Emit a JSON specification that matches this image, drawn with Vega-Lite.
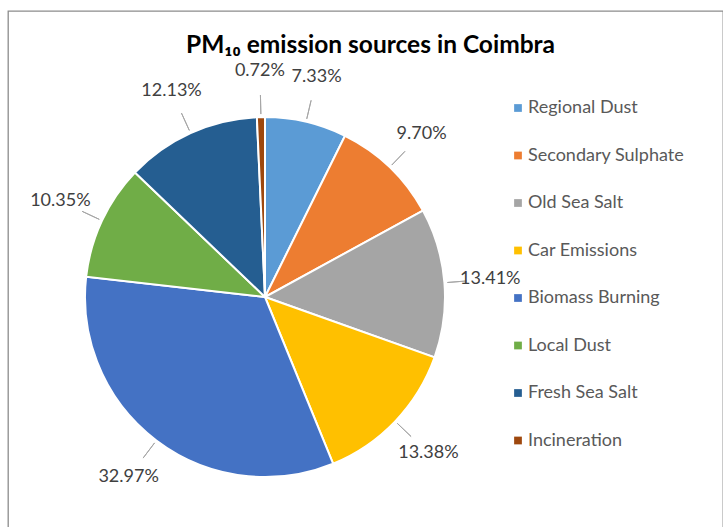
{
  "$schema": "https://vega.github.io/schema/vega-lite/v6.json",
  "autosize": "none",
  "padding": {"left": 8, "top": 11, "right": 0, "bottom": 0},
  "width": 715,
  "height": 530,
  "background": "white",
  "view": {"stroke": "#8c8c8c", "strokeWidth": 1.3},
  "config": {
    "view": {"stroke": "#8c8c8c", "strokeWidth": 1.3},
    "font": "Lato"
  },
  "title": {
    "text": "PM₁₀ emission sources in Coimbra",
    "font": "Lato",
    "fontSize": 24.5,
    "fontWeight": "bold",
    "color": "#000000",
    "anchor": "middle",
    "frame": "group",
    "dx": 5,
    "offset": -47
  },
  "data": {
    "values": [
      {"idx": 1, "source": "Regional Dust", "value": 7.33, "label": "7.33%"},
      {"idx": 2, "source": "Secondary Sulphate", "value": 9.70, "label": "9.70%"},
      {"idx": 3, "source": "Old Sea Salt", "value": 13.41, "label": "13.41%"},
      {"idx": 4, "source": "Car Emissions", "value": 13.38, "label": "13.38%"},
      {"idx": 5, "source": "Biomass Burning", "value": 32.97, "label": "32.97%"},
      {"idx": 6, "source": "Local Dust", "value": 10.35, "label": "10.35%"},
      {"idx": 7, "source": "Fresh Sea Salt", "value": 12.13, "label": "12.13%"},
      {"idx": 8, "source": "Incineration", "value": 0.72, "label": "0.72%"}
    ]
  },
  "encoding": {
    "theta": {"field": "value", "type": "quantitative", "stack": true},
    "order": {"field": "idx", "type": "quantitative"}
  },
  "layer": [
    {
      "mark": {"type": "arc", "radius": 180, "stroke": "white", "strokeWidth": 2, "x": 257, "y": 286},
      "encoding": {
        "color": {
          "field": "source",
          "type": "nominal",
          "scale": {
            "domain": ["Regional Dust", "Secondary Sulphate", "Old Sea Salt", "Car Emissions", "Biomass Burning", "Local Dust", "Fresh Sea Salt", "Incineration"],
            "range": ["#5B9BD5", "#ED7D31", "#A5A5A5", "#FFC000", "#4472C4", "#70AD47", "#255E91", "#9E480E"]
          },
          "legend": {
            "orient": "none",
            "legendX": 501,
            "legendY": 88,
            "title": null,
            "padding": 0,
            "symbolType": "square",
            "symbolSize": 60,
            "symbolStrokeWidth": 0,
            "symbolOffset": 0,
            "labelFont": "Lato",
            "labelFontSize": 18,
            "labelColor": "#595959",
            "labelOffset": 1,
            "labelLimit": 300,
            "rowPadding": 29.5
          }
        }
      }
    },
    {
      "mark": {"type": "arc", "radius": 202, "radius2": 183, "padAngle": 3.14, "fillOpacity": 0, "stroke": "#A6A6A6", "strokeWidth": 1, "x": 257, "y": 286},
      "encoding": {}
    },
    {
      "mark": {"type": "text", "radius": 226, "fontSize": 18, "font": "Lato", "color": "#404040", "x": 257, "y": 286},
      "encoding": {
        "text": {"field": "label", "type": "nominal"}
      }
    }
  ]
}
